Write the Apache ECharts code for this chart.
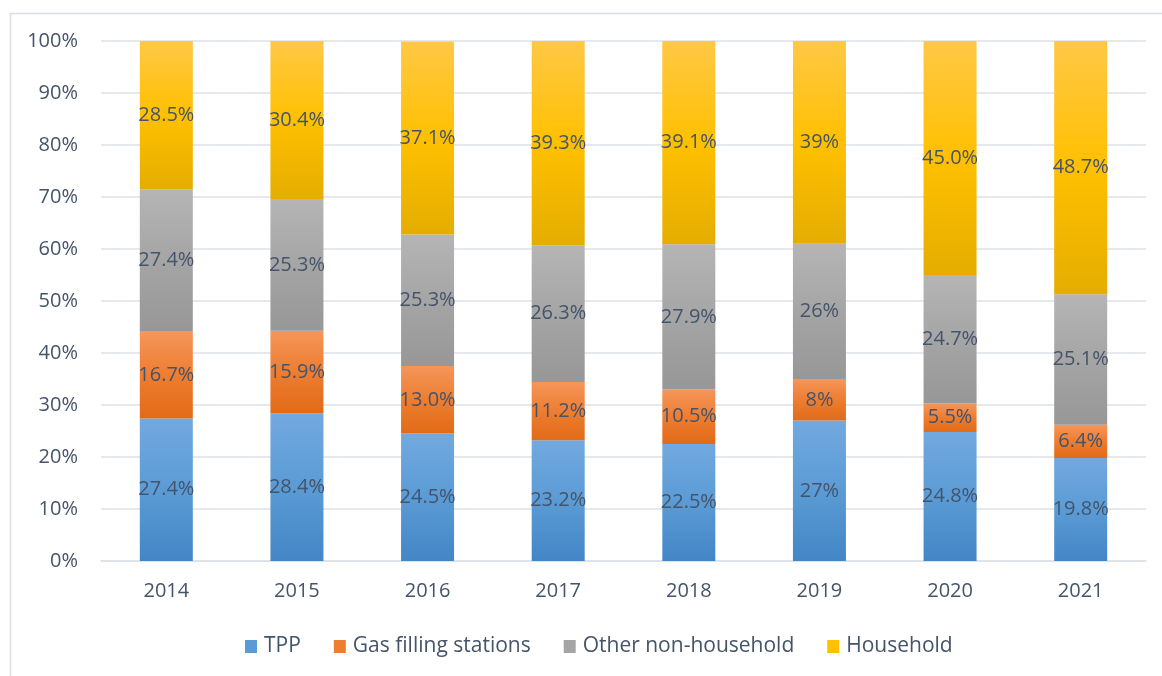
<!DOCTYPE html>
<html>
<head>
<meta charset="utf-8">
<script src="https://cdn.jsdelivr.net/npm/echarts@6/dist/echarts.min.js"></script>
<style>
html,body{margin:0;padding:0;background:#fff;}
#chart{width:1162px;height:676px;}
</style>
</head>
<body>
<div id="chart"></div>
<script>
const years = ['2014','2015','2016','2017','2018','2019','2020','2021'];
const tppLabels = ['27.4','28.4','24.5','23.2','22.5','27','24.8','19.8'];
const gasLabels = ['16.7','15.9','13.0','11.2','10.5','8','5.5','6.4'];
const otherLabels = ['27.4','25.3','25.3','26.3','27.9','26','24.7','25.1'];
const householdLabels = ['28.5','30.4','37.1','39.3','39.1','39','45.0','48.7'];
const seriesNames = ['TPP','Gas filling stations','Other non-household','Household'];
const yTicks = [0,10,20,30,40,50,60,70,80,90,100];

const FONT = '"Open Sans", "Noto Sans", sans-serif';
const TXT = '#44546A';

function grad(top, mid, bottom){
  return new echarts.graphic.LinearGradient(0,0,0,1,[
    {offset:0,color:top},{offset:0.5,color:mid},{offset:1,color:bottom}
  ]);
}
const fills = [
  grad('#72A9DF','#5B9BD5','#4386C6'),
  grad('#F5965A','#ED7D31','#E16B17'),
  grad('#B5B5B5','#A5A5A5','#979797'),
  grad('#FFC846','#FFC000','#E4AD00')
];
const legendColors = ['#5B9BD5','#ED7D31','#A5A5A5','#FFC000'];
const labelSets = [tppLabels, gasLabels, otherLabels, householdLabels];

const chart = echarts.init(document.getElementById('chart'), null, {renderer:'canvas'});
const option = {
  animation:false,
  backgroundColor:'#fff',
  graphic:[{
    type:'rect', left:8, top:11, shape:{width:1300,height:800},
    style:{fill:'none', stroke:'#D9DEE5', lineWidth:1.5}, silent:true, z:-1
  }],
  grid:{left:101, right:16, top:41, bottom:115},
  legend:{
    bottom:14, left:240,
    itemWidth:12, itemHeight:13, itemGap:33,
    icon:'rect',
    textStyle:{color:TXT, fontSize:21, fontFamily:FONT, padding:[0,0,0,2]},
    data: seriesNames.map((n,i)=>({name:n, itemStyle:{color:legendColors[i]}}))
  },
  xAxis:{
    type:'category', data:years,
    axisLine:{show:true, lineStyle:{color:'#DDE1E6', width:1.5}},
    axisTick:{show:false},
    axisLabel:{color:TXT, fontSize:20, fontFamily:FONT, margin:20}
  },
  yAxis:{
    type:'value', min:0, max:100, interval:10,
    axisLine:{show:false}, axisTick:{show:false},
    splitLine:{lineStyle:{color:'#DDE1E6', width:1.5}},
    axisLabel:{color:TXT, fontSize:20, fontFamily:FONT, margin:23,
      formatter: v => yTicks.includes(v) ? v + '%' : ''}
  },
  series: labelSets.map((labels,i)=>({
    name:seriesNames[i], type:'bar', stack:'total', barWidth:53,
    itemStyle:{color:fills[i]},
    label:{show:true, position:'inside', color:TXT, fontSize:20, fontFamily:FONT,
      formatter: p => labels[p.dataIndex] + '%'},
    data: labels.map(Number)
  }))
};
chart.setOption(option);
</script>
</body>
</html>
